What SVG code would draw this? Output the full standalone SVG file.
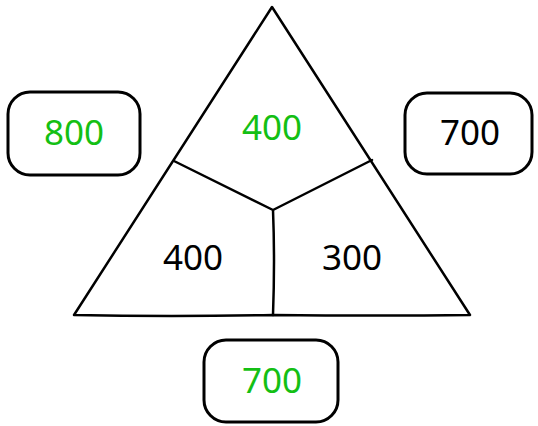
<svg xmlns="http://www.w3.org/2000/svg" width="538" height="426" viewBox="0 0 538 426">
<style>
.s{fill:none;stroke:#000;stroke-width:2.5;stroke-linejoin:round;stroke-linecap:round}
.b{fill:#fff;stroke:#000;stroke-width:3}
text{font-family:"Noto Sans","Open Sans",sans-serif;font-size:35px;text-anchor:middle;dominant-baseline:central}
.g{fill:#14bf14}
.k{fill:#000}
</style>
<rect width="538" height="426" fill="#fff"/>
<g id="triangle">
<path class="s" d="M272,7 L470,315 Q380,316 273,315 Q170,317 74,315 Z"/>
</g>
<g id="connectors">
<path class="s" d="M174,161 L273,210 L372,160 M273,210 Q275,260 273,315"/>
</g>
<g id="top"><text class="g" x="272" y="126">400</text></g>
<g id="left"><text class="k" x="193" y="256">400</text></g>
<g id="right"><text class="k" x="352" y="256">300</text></g>
<g id="box800"><rect class="b" x="8" y="92" width="132" height="83" rx="22"/><text class="g" x="74" y="131">800</text></g>
<g id="box700r"><rect class="b" x="405" y="93" width="127" height="81" rx="22"/><text class="k" x="470" y="131">700</text></g>
<g id="box700b"><rect class="b" x="204" y="340" width="134" height="82" rx="22"/><text class="g" x="272" y="379">700</text></g>
</svg>
